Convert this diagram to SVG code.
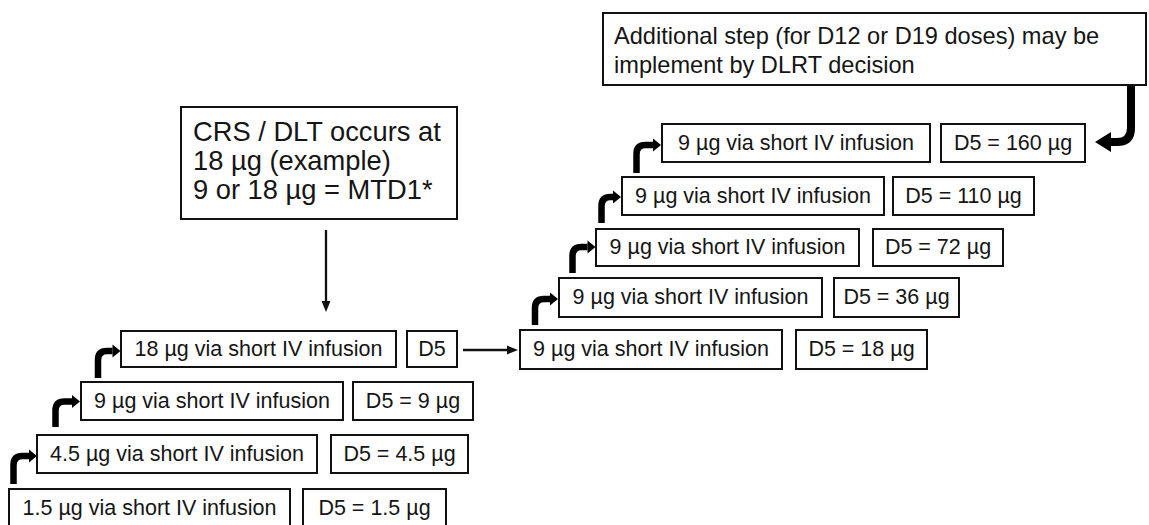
<svg xmlns="http://www.w3.org/2000/svg" width="1149" height="525" viewBox="0 0 1149 525">
<defs>
<style>
.box{fill:#fff;stroke:#111;stroke-width:2}
.t{font-family:"Liberation Sans",Arial,sans-serif;font-size:21.5px;fill:#151515;text-anchor:middle}
.big{font-family:"Liberation Sans",Arial,sans-serif;font-size:27.3px;fill:#151515}
.top{font-family:"Liberation Sans",Arial,sans-serif;font-size:23.6px;fill:#151515}
.thin{fill:none;stroke:#111;stroke-width:2.3;marker-end:url(#mThin)}
.bend{fill:none;stroke:#000;stroke-width:6.5;marker-end:url(#mBend)}
.bendBig{fill:none;stroke:#000;stroke-width:8;marker-end:url(#mBig)}
</style>
<marker id="mThin" markerUnits="userSpaceOnUse" markerWidth="11" markerHeight="9" refX="0" refY="4.5" orient="auto" overflow="visible"><path d="M0,0 L11,4.5 L0,9 z" fill="#111"/></marker>
<marker id="mBend" markerUnits="userSpaceOnUse" markerWidth="8" markerHeight="13" refX="0" refY="6.5" orient="auto" overflow="visible"><path d="M0,0 L8,6.5 L0,13 z" fill="#000"/></marker>
<marker id="mBig" markerUnits="userSpaceOnUse" markerWidth="16" markerHeight="20" refX="0" refY="10" orient="auto" overflow="visible"><path d="M0,0 L16,10 L0,20 z" fill="#000"/></marker>
</defs>
<rect width="1149" height="525" fill="#fff"/>

<g id="connectors">
<path class="bend" d="M13.5,484 V465 Q13.5,456 22.5,456 H29"/>
<path class="bend" d="M55.5,427 V410.5 Q55.5,401.5 64.5,401.5 H72"/>
<path class="bend" d="M98,378 V360 Q98,351 107,351 H112.5"/>
<path class="bend" d="M535,325 V308 Q535,299 544,299 H550"/>
<path class="bend" d="M572.5,273 V256 Q572.5,247 581.5,247 H587.5"/>
<path class="bend" d="M601.5,223 V206 Q601.5,197 610.5,197 H613"/>
<path class="bend" d="M636.5,173 V154 Q636.5,145 645.5,145 H653"/>
<path class="bendBig" d="M1131,85 V128 Q1131,142 1117,142 H1111"/>
<path class="thin" d="M326,230 V301"/>
<path class="thin" d="M463,350 H507"/>
</g>

<g id="top-note">
<rect class="box" x="603" y="13" width="543" height="72"/>
<text class="top" x="614" y="44">Additional step (for D12 or D19 doses) may be</text>
<text class="top" x="614" y="73">implement by DLRT decision</text>
</g>

<g id="crs">
<rect class="box" x="181" y="107" width="276" height="112"/>
<text class="big" x="193" y="141">CRS / DLT occurs at</text>
<text class="big" x="193" y="170">18 µg (example)</text>
<text class="big" x="193" y="199">9 or 18 µg = MTD1*</text>
</g>

<g id="L1"><rect class="box" x="9" y="489" width="281" height="42"/><text class="t" x="149.5" y="515">1.5 µg via short IV infusion</text></g>
<g id="L1d"><rect class="box" x="303" y="489" width="143" height="42"/><text class="t" x="374.5" y="515">D5 = 1.5 µg</text></g>

<g id="L2"><rect class="box" x="37" y="435" width="280" height="38"/><text class="t" x="177" y="461">4.5 µg via short IV infusion</text></g>
<g id="L2d"><rect class="box" x="331" y="435" width="137" height="38"/><text class="t" x="399.5" y="461">D5 = 4.5 µg</text></g>

<g id="L3"><rect class="box" x="81" y="382" width="262" height="38"/><text class="t" x="212" y="408">9 µg via short IV infusion</text></g>
<g id="L3d"><rect class="box" x="353" y="382" width="120" height="38"/><text class="t" x="413" y="408">D5 = 9 µg</text></g>

<g id="L4"><rect class="box" x="121" y="331" width="275" height="36"/><text class="t" x="258.5" y="356">18 µg via short IV infusion</text></g>
<g id="L4d"><rect class="box" x="407" y="331" width="50" height="36"/><text class="t" x="432" y="356">D5</text></g>

<g id="R1"><rect class="box" x="520" y="330" width="262" height="39"/><text class="t" x="651" y="356">9 µg via short IV infusion</text></g>
<g id="R1d"><rect class="box" x="796" y="330" width="131" height="39"/><text class="t" x="861.5" y="356">D5 = 18 µg</text></g>

<g id="R2"><rect class="box" x="559" y="278" width="263" height="39"/><text class="t" x="690.5" y="304">9 µg via short IV infusion</text></g>
<g id="R2d"><rect class="box" x="834" y="278" width="125" height="39"/><text class="t" x="896.5" y="304">D5 = 36 µg</text></g>

<g id="R3"><rect class="box" x="596" y="229" width="263" height="37"/><text class="t" x="727.5" y="254">9 µg via short IV infusion</text></g>
<g id="R3d"><rect class="box" x="873" y="229" width="130" height="37"/><text class="t" x="938" y="254">D5 = 72 µg</text></g>

<g id="R4"><rect class="box" x="622" y="177" width="262" height="38"/><text class="t" x="753" y="203">9 µg via short IV infusion</text></g>
<g id="R4d"><rect class="box" x="893" y="177" width="141" height="38"/><text class="t" x="963.5" y="203">D5 = 110 µg</text></g>

<g id="R5"><rect class="box" x="662" y="124" width="268" height="38"/><text class="t" x="796" y="150">9 µg via short IV infusion</text></g>
<g id="R5d"><rect class="box" x="941" y="124" width="144" height="38"/><text class="t" x="1013" y="150">D5 = 160 µg</text></g>
</svg>
